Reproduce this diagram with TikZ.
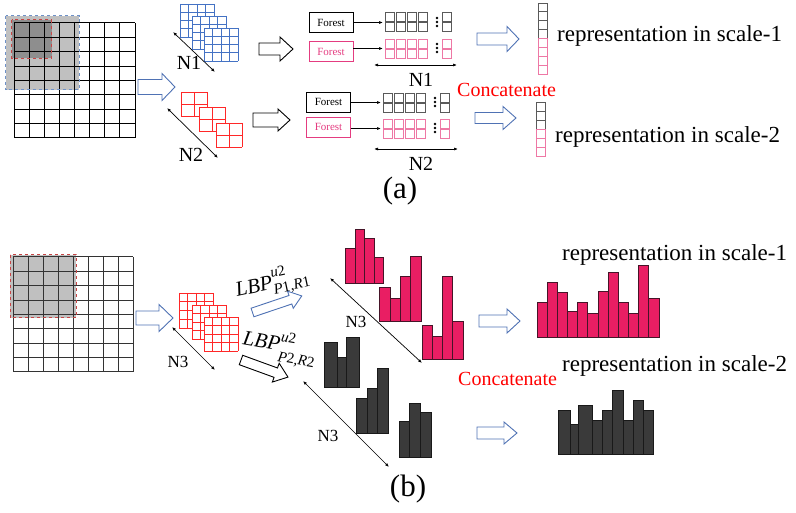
\documentclass[tikz,border=0pt]{standalone}
\usepackage{fontspec}
\setmainfont{Liberation Serif}
\usetikzlibrary{arrows.meta}
\definecolor{gridblue}{RGB}{68,114,196}
\definecolor{arrblue}{RGB}{79,114,180}
\definecolor{gridred}{RGB}{255,40,40}
\definecolor{grayA}{RGB}{192,192,192}
\definecolor{grayB}{RGB}{142,142,142}
\definecolor{dashblue}{RGB}{110,145,200}
\definecolor{dashred}{RGB}{200,70,70}
\definecolor{fpink}{RGB}{228,60,128}
\definecolor{sqpink}{RGB}{238,120,165}
\definecolor{sqgray}{RGB}{90,90,90}
\definecolor{hpink}{RGB}{233,30,99}
\definecolor{hpedge}{RGB}{70,20,40}
\definecolor{hdark}{RGB}{58,58,58}
\definecolor{hdedge}{RGB}{25,25,25}
\definecolor{conred}{RGB}{255,0,0}
\newcommand\HArrow[7]{%
  \draw[#1, fill=white, line width=0.9pt] (#2,#4-#5) -- (#7,#4-#5) -- (#7,#4-#6) -- (#3,#4) -- (#7,#4+#6) -- (#7,#4+#5) -- (#2,#4+#5) -- cycle;}
\newcommand\GridBox[7]{%
  \foreach \i in {0,...,#5}{\draw[#7] ({#1+\i*#3/#5},#2) -- ({#1+\i*#3/#5},{#2+#4});}
  \foreach \j in {0,...,#6}{\draw[#7] (#1,{#2+\j*#4/#6}) -- ({#1+#3},{#2+\j*#4/#6});}}
\newcommand\WGrid[7]{%
  \fill[white] (#1,#2) rectangle ({#1+#3},{#2+#4});
  \GridBox{#1}{#2}{#3}{#4}{#5}{#6}{#7}}
\newcommand\LBPlab[3]{\textit{LBP}\makebox[0pt][l]{\raisebox{#2}{\fontsize{15}{15}\selectfont\textit{u}2}}\raisebox{#3}{\fontsize{15}{15}\selectfont\textit{P}#1,\textit{R}#1}}
\begin{document}
\begin{tikzpicture}[x=1pt,y=-1pt,
  dbl/.style={{Latex[length=4pt,width=3pt]}-{Latex[length=4pt,width=3pt]}, line width=0.7pt},
  sarr/.style={-{Latex[length=4pt,width=3pt]}, line width=0.7pt},
  forestbox/.style={draw, line width=0.8pt, minimum width=44pt, minimum height=20pt, inner sep=0pt, font=\fontsize{11}{13}\selectfont},
  nlab/.style={font=\fontsize{20}{24}\selectfont, inner sep=0pt},
  n3lab/.style={font=\fontsize{17}{20}\selectfont, inner sep=0pt},
  replab/.style={font=\fontsize{23}{27}\selectfont, inner sep=0pt, anchor=base west},
  conlab/.style={font=\fontsize{20}{24}\selectfont, text=conred, inner sep=0pt, anchor=base west},
  caplab/.style={font=\fontsize{31}{36}\selectfont, inner sep=0pt, anchor=base},
  lbplab/.style={font=\fontsize{21}{25}\selectfont, inner sep=0pt, anchor=base west},
  pinkbar/.style={fill=hpink, draw=hpedge, line width=0.8pt},
  darkbar/.style={fill=hdark, draw=hdedge, line width=0.8pt},
  gsq/.style={draw=sqgray, line width=0.8pt},
  psq/.style={draw=sqpink, line width=0.8pt}]
\useasboundingbox (0,0) rectangle (796,513);

% ================= (a) =================
\fill[grayA] (5.7,15.7) rectangle (79.3,90);
\fill[grayB] (11.7,20) rectangle (51.7,58.3);
\GridBox{14}{23}{121}{115}{8}{8}{black,line width=1pt}
\draw[dashblue, dashed, line width=1pt] (5.7,15.7) rectangle (79.3,90);
\draw[dashred, dashed, line width=1pt] (11.7,20) rectangle (51.7,58.3);

\HArrow{arrblue}{138}{175}{87}{7.5}{13.5}{162}

% blue 4x4 stacks
\WGrid{180}{4}{34}{33}{4}{4}{gridblue,line width=0.9pt}
\WGrid{192}{16}{34}{33}{4}{4}{gridblue,line width=0.9pt}
\WGrid{204}{28}{34}{33}{4}{4}{gridblue,line width=0.9pt}
% red 2x2 stacks
\WGrid{181}{92}{26}{24}{2}{2}{gridred,line width=0.9pt}
\WGrid{199}{107}{26}{24}{2}{2}{gridred,line width=0.9pt}
\WGrid{216}{123}{26}{24}{2}{2}{gridred,line width=0.9pt}

\coordinate (n1a) at (173,32); \coordinate (n1b) at (215,72);
\draw[dbl] (n1a) -- (n1b);
\node[nlab] (lN1a) at (189,63) {N1};
\coordinate (n2a) at (167,108); \coordinate (n2b) at (218,158);
\draw[dbl] (n2a) -- (n2b);
\node[nlab] (lN2a) at (191,155) {N2};

\HArrow{black}{259}{293}{49}{6}{12}{280}
\HArrow{black}{253}{290}{120}{7}{11}{278}

% forests, top
\node[forestbox, draw=black] (fa1) at (331,22.5) {Forest};
\node[forestbox, draw=fpink, text=fpink] (fa2) at (331,51.5) {Forest};
\coordinate (sa1) at (383,22.5); \coordinate (sa2) at (383,48.5);
\draw[sarr] (fa1.east |- sa1) -- (sa1);
\draw[sarr] (fa2.east |- sa2) -- (sa2);
\foreach \xx in {385,396,407,418,442} \foreach \yy in {12,22} \draw[gsq] (\xx,\yy) rectangle ++(9.5,9);
\foreach \xx in {385,396,407,418,442} \foreach \yy in {39,49.5} \draw[psq] (\xx,\yy) rectangle ++(9.5,9);
\foreach \yy in {18,22,26,44,48,52} \fill (437,\yy) circle (1.4);
\coordinate (w1a) at (374,65); \coordinate (w1b) at (457,65);
\draw[dbl] (w1a) -- (w1b);
\node[nlab] (lN1b) at (421,80) {N1};

% forests, bottom
\node[forestbox, draw=black] (fb1) at (328.5,102) {Forest};
\node[forestbox, draw=fpink, text=fpink] (fb2) at (328.5,127) {Forest};
\coordinate (sb1) at (381,102.5); \coordinate (sb2) at (381,128.5);
\draw[sarr] (fb1.east |- sb1) -- (sb1);
\draw[sarr] (fb2.east |- sb2) -- (sb2);
\foreach \xx in {383,394,405,416,440} \foreach \yy in {93,103} \draw[gsq] (\xx,\yy) rectangle ++(9,9);
\foreach \xx in {383,394,405,416,440} \foreach \yy in {119,129.5} \draw[psq] (\xx,\yy) rectangle ++(9,9);
\foreach \yy in {98,102,106,124,128,132} \fill (435,\yy) circle (1.4);
\coordinate (w2a) at (374,149); \coordinate (w2b) at (458,149);
\draw[dbl] (w2a) -- (w2b);
\node[nlab] (lN2b) at (421,164) {N2};

\node[conlab] (cona) at (457,97) {Concatenate};

\HArrow{arrblue}{477}{519}{39}{6}{12.5}{507}
\HArrow{arrblue}{475}{516}{118}{5.5}{11.5}{503}

% vectors
\foreach \k in {0,...,3} \draw[gsq] (538,{3+\k*8.9}) rectangle (547,{3+(\k+1)*8.9});
\foreach \k in {4,...,7} \draw[psq] (538,{3+\k*8.9}) rectangle (547,{3+(\k+1)*8.9});
\foreach \k in {0,...,2} \draw[gsq] (536,{102+\k*9}) rectangle (545,{102+(\k+1)*9});
\foreach \k in {3,...,5} \draw[psq] (536,{102+\k*9}) rectangle (545,{102+(\k+1)*9});

\node[replab] (rep1a) at (557,42) {representation in scale-1};
\node[replab] (rep2a) at (555,143) {representation in scale-2};

\node[caplab] (capa) at (400,199) {(a)};

% ================= (b) =================
\fill[grayA] (10,255) rectangle (76,318);
\GridBox{13}{257}{120}{115}{8}{8}{black!80,line width=1pt}
\draw[dashred, dashed, line width=1pt] (10,255) rectangle (76,318);

\HArrow{arrblue}{136}{173}{318}{7}{13.5}{159}

\WGrid{179}{293}{34}{35}{4}{4}{gridred,line width=0.9pt}
\WGrid{192}{305}{34}{34}{4}{4}{gridred,line width=0.9pt}
\WGrid{204}{317}{34}{34}{4}{4}{gridred,line width=0.9pt}

\coordinate (n3a) at (172,327); \coordinate (n3b) at (215,370);
\draw[dbl] (n3a) -- (n3b);
\node[n3lab] (lN3a) at (178,362) {N3};

% LBP arrows and labels
\begin{scope}[shift={(252.5,312.5)}, rotate=18.6]
\HArrow{arrblue}{0}{52}{0}{4.5}{9}{40}
\end{scope}
\begin{scope}[shift={(241,360)}, rotate=-20]
\HArrow{black}{0}{50}{0}{5}{10}{37}
\end{scope}
\node[lbplab, rotate=12] (lbp1) at (237,297) {\LBPlab{1}{11.5pt}{-5pt}};
\node[lbplab, rotate=-10] (lbp2) at (242,344) {\LBPlab{2}{9pt}{-11pt}};

% pink small histograms
\foreach \a/\b/\t in {345/355/248, 355/364/229, 364/374/238, 374/383/257} \draw[pinkbar] (\a,\t) rectangle (\b,283);
\foreach \a/\b/\t in {379/390/287, 390/400/298, 400/410/276, 410/421/256} \draw[pinkbar] (\a,\t) rectangle (\b,321);
\foreach \a/\b/\t in {422/432/325, 432/442/336, 442/452/276, 452/463/321} \draw[pinkbar] (\a,\t) rectangle (\b,359);
% dark small histograms
\foreach \a/\b/\t in {324/337/342, 337/346/357, 346/359/337} \draw[darkbar] (\a,\t) rectangle (\b,387);
\foreach \a/\b/\t in {356/367/398, 367/377/388, 377/388/368} \draw[darkbar] (\a,\t) rectangle (\b,433);
\foreach \a/\b/\t in {399/409/421, 409/420/403, 420/431/412} \draw[darkbar] (\a,\t) rectangle (\b,457);

\coordinate (m3a) at (330,278); \coordinate (m3b) at (422,363);
\draw[dbl] (m3a) -- (m3b);
\node[n3lab] (lN3b) at (356,322) {N3};
\coordinate (l3a) at (303,381); \coordinate (l3b) at (389,467);
\draw[dbl] (l3a) -- (l3b);
\node[n3lab] (lN3c) at (328,436) {N3};

\node[conlab] (conb) at (458,385) {Concatenate};

\HArrow{arrblue}{479}{520}{321}{6}{12}{507}
\HArrow{arrblue}{477}{517}{433}{6}{11}{504}

% big histograms
\foreach \t [count=\k from 0] in {302,282,292,311,302,313,291,272,302,313,265,298}
  \draw[pinkbar] ({537+\k*10.17},\t) rectangle ({547.17+\k*10.17},337);
\foreach \a/\b/\t in {558/570/410, 570/578/424, 578/592/405, 592/602/420, 602/612/410, 612/623/390, 623/633/420, 633/643/400, 643/653/410}
  \draw[darkbar] (\a,\t) rectangle (\b,454);

\node[replab] (rep1b) at (562,260.5) {representation in scale-1};
\node[replab] (rep2b) at (562,371) {representation in scale-2};

\node[caplab] (capb) at (408,496) {(b)};
\end{tikzpicture}
\end{document}
